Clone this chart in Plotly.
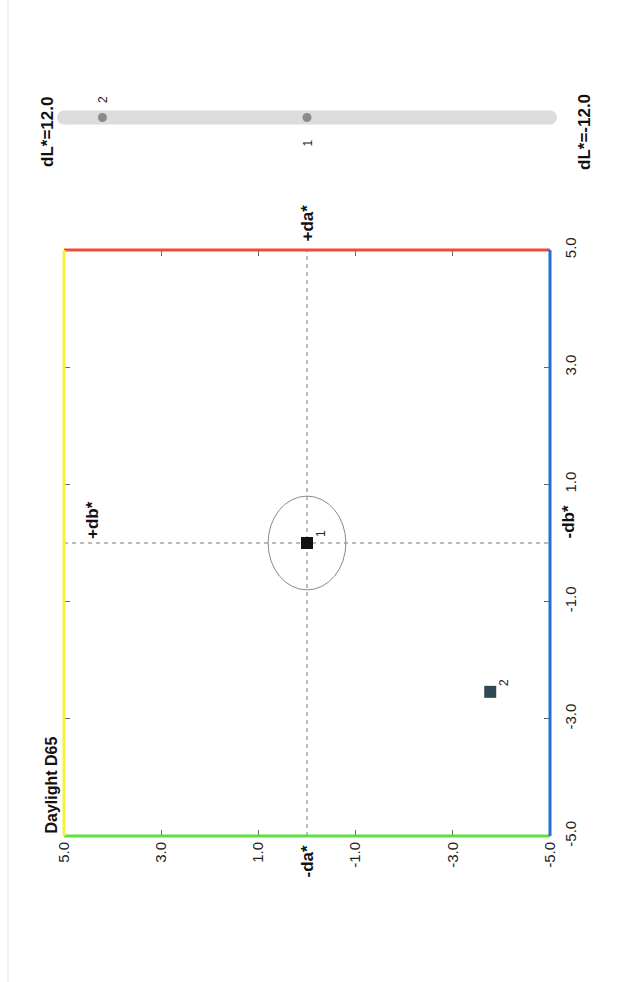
import plotly.graph_objects as go

# Sample colour differences (CIELAB) against the standard
sample_ids = ["1", "2"]
delta_a = [0.0, -2.54]
delta_b = [0.0, -3.77]
delta_L = [0.0, 10.1]
sample_colors = ["#111111", "#2f4a55"]

ab_ticks = [5, 3, 1, -1, -3, -5]
ab_ticktext = ["5.0", "3.0", "1.0", "-1.0", "-3.0", "-5.0"]
tolerance = 0.8
dL_limits = [12.0, -12.0]
illuminant = "Daylight D65"

W, H = 642, 982
FONT = "Liberation Sans, Arial, sans-serif"


def px_x(p):
    return p / W


def px_y(p):
    return 1 - p / H


fig = go.Figure()

# dL* track: a thick line with round end caps
fig.add_trace(go.Scatter(
    x=dL_limits, y=[0, 0], mode="lines+markers", cliponaxis=False,
    line=dict(color="#dcdcdc", width=14),
    marker=dict(size=14, color="#dcdcdc", line=dict(width=0)),
    xaxis="x2", yaxis="y2", showlegend=False, hoverinfo="skip",
))
fig.add_trace(go.Scatter(
    x=delta_L, y=[0] * len(delta_L), mode="markers", cliponaxis=False,
    marker=dict(size=9, color="#8a8a8a", line=dict(width=0)),
    xaxis="x2", yaxis="y2", showlegend=False, hoverinfo="skip",
))

# a*/b* plane: the page is turned, so db* runs across and da* runs up
fig.add_trace(go.Scatter(
    x=delta_b, y=delta_a, mode="markers",
    marker=dict(symbol="square", size=12, color=sample_colors, line=dict(width=0)),
    xaxis="x", yaxis="y", showlegend=False, hoverinfo="skip",
))

tick_font = dict(family=FONT, size=15, color="#222")

fig.update_layout(
    width=W, height=H,
    margin=dict(l=0, r=0, t=0, b=0, autoexpand=False),
    paper_bgcolor="white", plot_bgcolor="white",
    xaxis=dict(
        domain=[px_x(64), px_x(550)], range=[5, -5], anchor="y", automargin=False,
        tickmode="array", tickvals=ab_ticks, ticktext=ab_ticktext, tickangle=-90,
        ticks="inside", ticklen=6, tickcolor="#666", tickwidth=1, mirror="ticks",
        showline=False, showgrid=False, zeroline=False, tickfont=tick_font,
        ticklabelstandoff=2,
    ),
    yaxis=dict(
        domain=[px_y(836), px_y(250)], range=[-5, 5], anchor="x", side="right",
        automargin=False,
        tickmode="array", tickvals=ab_ticks, ticktext=ab_ticktext, tickangle=-90,
        ticks="inside", ticklen=6, tickcolor="#666", tickwidth=1, mirror="ticks",
        showline=False, showgrid=False, zeroline=False, tickfont=tick_font,
        ticklabelstandoff=10,
    ),
    xaxis2=dict(domain=[px_x(64), px_x(550)], range=dL_limits, autorange=False,
                anchor="y2", visible=False, automargin=False),
    yaxis2=dict(domain=[px_y(145), px_y(90)], range=[-1, 1], autorange=False,
                anchor="x2", visible=False, automargin=False),
)

shapes = []
# faint page edge on the left
shapes.append(dict(type="line", xref="paper", yref="paper", x0=px_x(8), x1=px_x(8), y0=0, y1=1,
                   line=dict(color="#e4e4e4", width=1), layer="below"))

# crosshair through the origin
shapes.append(dict(type="line", xref="x", yref="y domain", x0=0, x1=0, y0=0, y1=1,
                   line=dict(color="#777", width=1, dash="4px,4px"), layer="below"))
shapes.append(dict(type="line", xref="x domain", yref="y", x0=0, x1=1, y0=0, y1=0,
                   line=dict(color="#777", width=1, dash="4px,4px"), layer="below"))

# tolerance ellipse around the standard
shapes.append(dict(type="circle", xref="x", yref="y", x0=-tolerance, x1=tolerance,
                   y0=-tolerance, y1=tolerance, line=dict(color="#8a8a8a", width=1),
                   layer="below"))

# colour-coded plot edges: +da* red, -da* green, +db* yellow, -db* blue
edges = [
    ("#ef4a3a", 0, 1, 1, 1),
    ("#5fe03c", 0, 1, 0, 0),
    ("#f6f23a", 0, 0, 0, 1),
    ("#2470d2", 1, 1, 0, 1),
]
for color, xa, xb, ya, yb in edges:
    shapes.append(dict(type="line", xref="x domain", yref="y domain", x0=xa, x1=xb, y0=ya, y1=yb,
                       line=dict(color=color, width=3), layer="above"))
fig.update_layout(shapes=shapes)

bold = dict(family=FONT, size=17, color="#111", weight="bold")
ann = []
ann.append(dict(text="+da*", xref="x", yref="paper", x=0, y=px_y(244), xanchor="center",
                yanchor="bottom", showarrow=False, textangle=-90, font=bold))
ann.append(dict(text="-da*", xref="x", yref="paper", x=0, y=px_y(843), xanchor="center",
                yanchor="top", showarrow=False, textangle=-90, font=bold))
ann.append(dict(text="+db*", xref="paper", yref="y", x=px_x(92), y=0, xanchor="center",
                yanchor="bottom", yshift=2, showarrow=False, textangle=-90, font=bold))
ann.append(dict(text="-db*", xref="paper", yref="y", x=px_x(568), y=0, xanchor="center",
                yanchor="bottom", yshift=2, showarrow=False, textangle=-90, font=bold))
ann.append(dict(text=illuminant, xref="paper", yref="paper", x=px_x(51), y=px_y(836),
                xanchor="center", yanchor="bottom", showarrow=False, textangle=-90,
                font=dict(family=FONT, size=16, color="#111", weight="bold")))
ann.append(dict(text="dL*=%.1f" % dL_limits[0], xref="paper", yref="paper", x=px_x(47),
                y=px_y(132), xanchor="center", yanchor="middle", showarrow=False,
                textangle=-90, font=bold))
ann.append(dict(text="dL*=%.1f" % dL_limits[1], xref="paper", yref="paper", x=px_x(584),
                y=px_y(132), xanchor="center", yanchor="middle", showarrow=False,
                textangle=-90, font=bold))

small = dict(family=FONT, size=12, color="#222")
for sid, a, b in zip(sample_ids, delta_a, delta_b):
    ann.append(dict(text=sid, xref="x", yref="y", x=b, y=a, xshift=14, yshift=9,
                    showarrow=False, textangle=-90, font=small))
for i, (sid, l) in enumerate(zip(sample_ids, delta_L)):
    above = i % 2 == 1
    ann.append(dict(text=sid, xref="x2", yref="y2", x=l, y=0, yshift=18 if above else -26,
                    showarrow=False, textangle=-90, font=small))
fig.update_layout(annotations=ann)

fig.write_html("out.html")
